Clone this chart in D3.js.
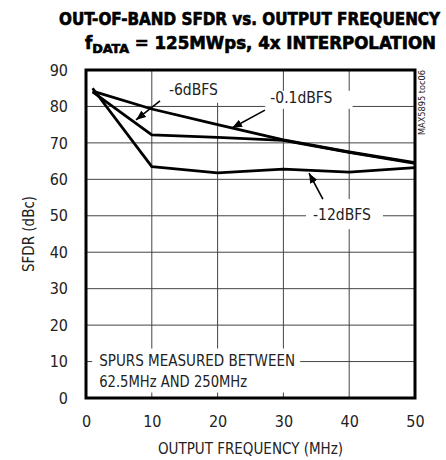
<!DOCTYPE html>
<html>
<head>
<meta charset="utf-8">
<script src="https://cdnjs.cloudflare.com/ajax/libs/d3/7.8.5/d3.min.js"></script>
<style>
  body { margin: 0; background: #fff; }
  svg { display: block; }
  text { font-family: "DejaVu Sans Condensed", "Liberation Sans Narrow", sans-serif; fill: #222; }
  .grid line { stroke: #444; stroke-width: 1; }
  .title { font-weight: bold; font-size: 17px; fill: #000; stroke: #000; stroke-width: 0.6px; }
</style>
</head>
<body>
<div id="chart"></div>
<script>
// data (MHz, dBc)
const freq = [1, 10, 20, 30, 40, 50];
const sfdrMinus01 = [84.2, 79.3, 75.0, 70.8, 67.5, 64.6];
const sfdrMinus6 = [84.0, 72.2, 71.5, 70.7, 67.4, 64.4];
const sfdrMinus12 = [85.0, 63.5, 61.8, 62.8, 62.0, 63.2];
const xTicks = [0, 10, 20, 30, 40, 50];
const yTicks = [0, 10, 20, 30, 40, 50, 60, 70, 80, 90];

const width = 446, height = 460;
const margin = {top: 70, right: 31, bottom: 62, left: 86};
const w = width - margin.left - margin.right;
const h = height - margin.top - margin.bottom;

let svg = d3.select("#chart").append("svg")
  .attr("width", width)
  .attr("height", height);

let x = d3.scaleLinear().domain([0, 50]).range([margin.left, margin.left + w]);
let y = d3.scaleLinear().domain([0, 90]).range([margin.top + h, margin.top]);

// title
svg.append("text").attr("class", "title")
  .attr("x", 59).attr("y", 25)
  .attr("textLength", 381).attr("lengthAdjust", "spacingAndGlyphs")
  .text("OUT-OF-BAND SFDR vs. OUTPUT FREQUENCY");
let t2 = svg.append("text").attr("class", "title")
  .attr("x", 85).attr("y", 49)
  .attr("textLength", 351).attr("lengthAdjust", "spacingAndGlyphs");
t2.append("tspan").text("f");
t2.append("tspan").attr("dy", 4).style("font-size", "13px").text("DATA");
t2.append("tspan").attr("dy", -4).text(" = 125MWps, 4x INTERPOLATION");

// grid
let grid = svg.append("g").attr("class", "grid");
grid.selectAll(".gx").data(xTicks.slice(1, -1)).enter().append("line")
  .attr("x1", d => x(d)).attr("x2", d => x(d))
  .attr("y1", margin.top).attr("y2", margin.top + h);
grid.selectAll(".gy").data(yTicks.slice(1, -1)).enter().append("line")
  .attr("x1", margin.left).attr("x2", margin.left + w)
  .attr("y1", d => y(d)).attr("y2", d => y(d));

// axes tick labels
let xAxis = d3.axisBottom(x).tickValues(xTicks).tickSize(0).tickPadding(18);
svg.append("g").attr("transform", "translate(0," + (margin.top + h) + ")")
  .call(xAxis)
  .call(g => g.select(".domain").remove())
  .selectAll("text").style("font-size", "16px").attr("fill", "#222");

let yAxis = d3.axisLeft(y).tickValues(yTicks).tickSize(0).tickPadding(18);
svg.append("g").attr("transform", "translate(" + margin.left + ",0)")
  .call(yAxis)
  .call(g => g.select(".domain").remove())
  .selectAll("text").style("font-size", "16px").attr("fill", "#222");

svg.selectAll(".tick text").attr("font-family", null);

// axis titles
svg.append("text")
  .attr("x", margin.left + w / 2).attr("y", 454)
  .attr("text-anchor", "middle").style("font-size", "15px")
  .text("OUTPUT FREQUENCY (MHz)");
svg.append("text")
  .attr("transform", "translate(34," + (margin.top + h / 2) + ") rotate(-90)")
  .attr("text-anchor", "middle").style("font-size", "15px")
  .text("SFDR (dBc)");

// figure id
svg.append("text")
  .attr("transform", "translate(425,70) rotate(-90)")
  .attr("text-anchor", "end").style("font-size", "9px")
  .attr("textLength", 65).attr("lengthAdjust", "spacingAndGlyphs")
  .text("MAX5895 toc06");

// annotation labels with white boxes over the grid
const labels = [
  {lines: ["-6dBFS"], fx: 12.6, fy: 83.2, pad: [9, 8, 13, 7]},
  {lines: ["-0.1dBFS"], fx: 28.0, fy: 81.0, pad: [5, 20, 1, 5]},
  {lines: ["-12dBFS"], fx: 34.5, fy: 48.8, pad: [7, 12, 10, 8]},
  {lines: ["SPURS MEASURED BETWEEN", "62.5MHz AND 250MHz"], fx: 2.0, fy: 8.9, pad: [7, 5, 6, 5],
   fit: [196, 148]}
];
let labelG = svg.append("g");
labels.forEach(l => {
  let box = labelG.append("rect").attr("fill", "#fff");
  let t = labelG.append("text")
    .attr("x", x(l.fx)).attr("y", y(l.fy))
    .style("font-size", "15.5px");
  l.lines.forEach((s, i) => {
    let ts = t.append("tspan").attr("x", x(l.fx)).attr("dy", i == 0 ? 0 : 21).text(s);
    if (l.fit) ts.attr("textLength", l.fit[i]).attr("lengthAdjust", "spacingAndGlyphs");
  });
  let bb = t.node().getBBox();
  let top = Math.max(bb.y + 3 - l.pad[2], margin.top);
  box.attr("x", bb.x - l.pad[0]).attr("y", top)
    .attr("width", bb.width + l.pad[0] + l.pad[1])
    .attr("height", bb.y + bb.height - 3 + l.pad[3] - top);
});

// arrows
svg.append("defs").append("marker")
  .attr("id", "head").attr("viewBox", "0 0 10 8")
  .attr("refX", 10).attr("refY", 4)
  .attr("markerWidth", 10).attr("markerHeight", 8)
  .attr("markerUnits", "userSpaceOnUse").attr("orient", "auto")
  .append("path").attr("d", "M0,0 L10,4 L0,8 Z").attr("fill", "#000");

const arrows = [
  {from: [11.25, 81.5], to: [7.6, 76.3]},
  {from: [27.2, 79.0], to: [22.2, 74.1]},
  {from: [36.0, 54.6], to: [33.9, 61.7]}
];
svg.selectAll(".arrow").data(arrows).enter().append("line")
  .attr("x1", d => x(d.from[0])).attr("y1", d => y(d.from[1]))
  .attr("x2", d => x(d.to[0])).attr("y2", d => y(d.to[1]))
  .attr("stroke", "#000").attr("stroke-width", 1.6)
  .attr("marker-end", "url(#head)");

// data lines
let line = d3.line()
  .x((d, i) => x(freq[i]))
  .y(d => y(d));
[sfdrMinus01, sfdrMinus6, sfdrMinus12].forEach(s => {
  svg.append("path")
    .attr("d", line(s))
    .attr("fill", "none")
    .attr("stroke", "#000")
    .attr("stroke-width", 2.8)
    .attr("stroke-linejoin", "round");
});

// frame
svg.append("rect")
  .attr("x", margin.left).attr("y", margin.top)
  .attr("width", w).attr("height", h)
  .attr("fill", "none").attr("stroke", "#000").attr("stroke-width", 3);
</script>
</body>
</html>
